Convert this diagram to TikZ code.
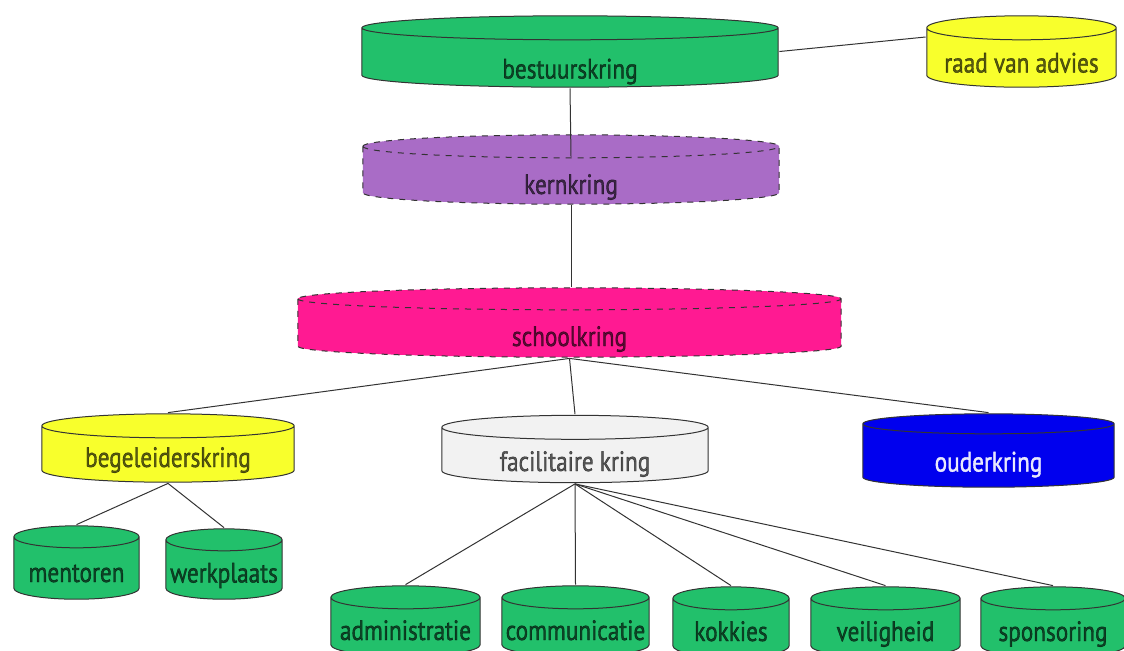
\documentclass[tikz,border=0pt]{standalone}
\usepackage{fontspec}
\setmainfont{PT Sans}[FakeStretch=0.83, FakeBold=1.3]
\usetikzlibrary{calc}
\definecolor{kgreen}{HTML}{22C06B}
\definecolor{kyellow}{HTML}{F8FF2C}
\definecolor{kpurple}{HTML}{A96CC6}
\definecolor{kpink}{HTML}{FF1A92}
\definecolor{kblue}{HTML}{0000EE}
\definecolor{kgray}{HTML}{F2F2F2}
\definecolor{edge}{HTML}{333333}

\tikzset{
  kcol/.initial=kgreen,
  kry/.initial=6pt,
  krim/.style={},
  dashedrim/.style={krim/.style={dashed}},
}

\begin{document}
\begin{tikzpicture}[x=0.5pt, y=-0.5pt,
  kring/.style 2 args={rectangle, inner sep=0pt, minimum width=#1, minimum height=#2,
                       text depth=2pt, font=\fontsize{14}{16}\selectfont,
                       text=black, text opacity=0.64,
    path picture={
      \draw[draw=edge, line width=0.5pt, fill=\pgfkeysvalueof{/tikz/kcol}, krim]
        let \p1=(path picture bounding box.south west),
            \p2=(path picture bounding box.north east),
            \n1={(\x2-\x1)/2-0.4pt}, \n2={\pgfkeysvalueof{/tikz/kry}},
            \n3={\x1+0.4pt}, \n4={\x2-0.4pt},
            \n5={\y2-0.4pt-\n2}, \n6={\y1+0.4pt+\n2}
        in (\n3,\n5) -- (\n3,\n6)
           arc[start angle=180, end angle=360, x radius=\n1, y radius=\n2]
           -- (\n4,\n5)
           arc[start angle=0, end angle=180, x radius=\n1, y radius=\n2] -- cycle
           (\n3,\n5) arc[start angle=180, end angle=360, x radius=\n1, y radius=\n2];
    }},
  link/.style={draw=edge, line width=0.5pt},
]
\useasboundingbox (0,0) rectangle (1124,650);
% top of the tree
\node[kring={209pt}{36.5pt}, text height=29pt] (bestuur) at (570,51.5) {bestuurskring};
\node[kring={95.5pt}{36.5pt}, kcol=kyellow, text height=23pt] (raad) at (1021.5,51.5) {raad van advies};
\node[kring={209pt}{35.5pt}, kcol=kpurple, kry=5.75pt, dashedrim, text height=26.5pt] (kern) at (571,169.5) {kernkring};
\node[kring={272.5pt}{35.5pt}, kcol=kpink, kry=5.5pt, dashedrim, text height=25.5pt] (school) at (569.5,322.5) {schoolkring};
% middle row
\node[kring={127pt}{35pt}, kcol=kyellow, text height=21pt] (begel) at (168,448) {begeleiderskring};
\node[kring={134pt}{34.5pt}, kcol=kgray, text height=24pt] (facil) at (575,449) {facilitaire kring};
\node[kring={126.5pt}{37.5pt}, kcol=kblue, kry=5pt, text height=23pt, text=white, text opacity=0.9] (ouder) at (988.5,450.5) {ouderkring};
% bottom rows
\node[kring={63.5pt}{37.5pt}, kry=5.5pt, text height=21.5pt] (mentor) at (76.5,562.5) {mentoren};
\node[kring={59pt}{36pt}, kry=5.5pt, text height=20.5pt] (werk) at (224,564) {werkplaats};
\node[kring={75.5pt}{36pt}, kry=5.75pt, text height=21pt] (admin) at (405.5,621) {administratie};
\node[kring={74.5pt}{36pt}, kry=5.75pt, text height=21pt] (comm) at (575.5,621) {communicatie};
\node[kring={59pt}{36pt}, kry=5.75pt, text height=21pt] (kok) at (731,622) {kokkies};
\node[kring={75.5pt}{36pt}, kry=5.75pt, text height=21pt] (veilig) at (885.5,622) {veiligheid};
\node[kring={73pt}{36pt}, kry=5.75pt, text height=21pt] (spons) at (1053,622) {sponsoring};
% connectors
\draw[link] (bestuur.east) -- ([yshift=7.25pt]raad.west);
\draw[link] (bestuur.south) -- ([yshift=-11.5pt]kern.north);
\draw[link] (kern.south) -- (kern.south |- school.north);
\foreach \k in {begel, facil, ouder}
  \draw[link] (school.south) -- (\k.north);
\foreach \k in {mentor, werk}
  \draw[link] (begel.south) -- (\k.north);
\foreach \k in {admin, comm, kok, veilig, spons}
  \draw[link] (facil.south) -- (\k.north);
\end{tikzpicture}
\end{document}
